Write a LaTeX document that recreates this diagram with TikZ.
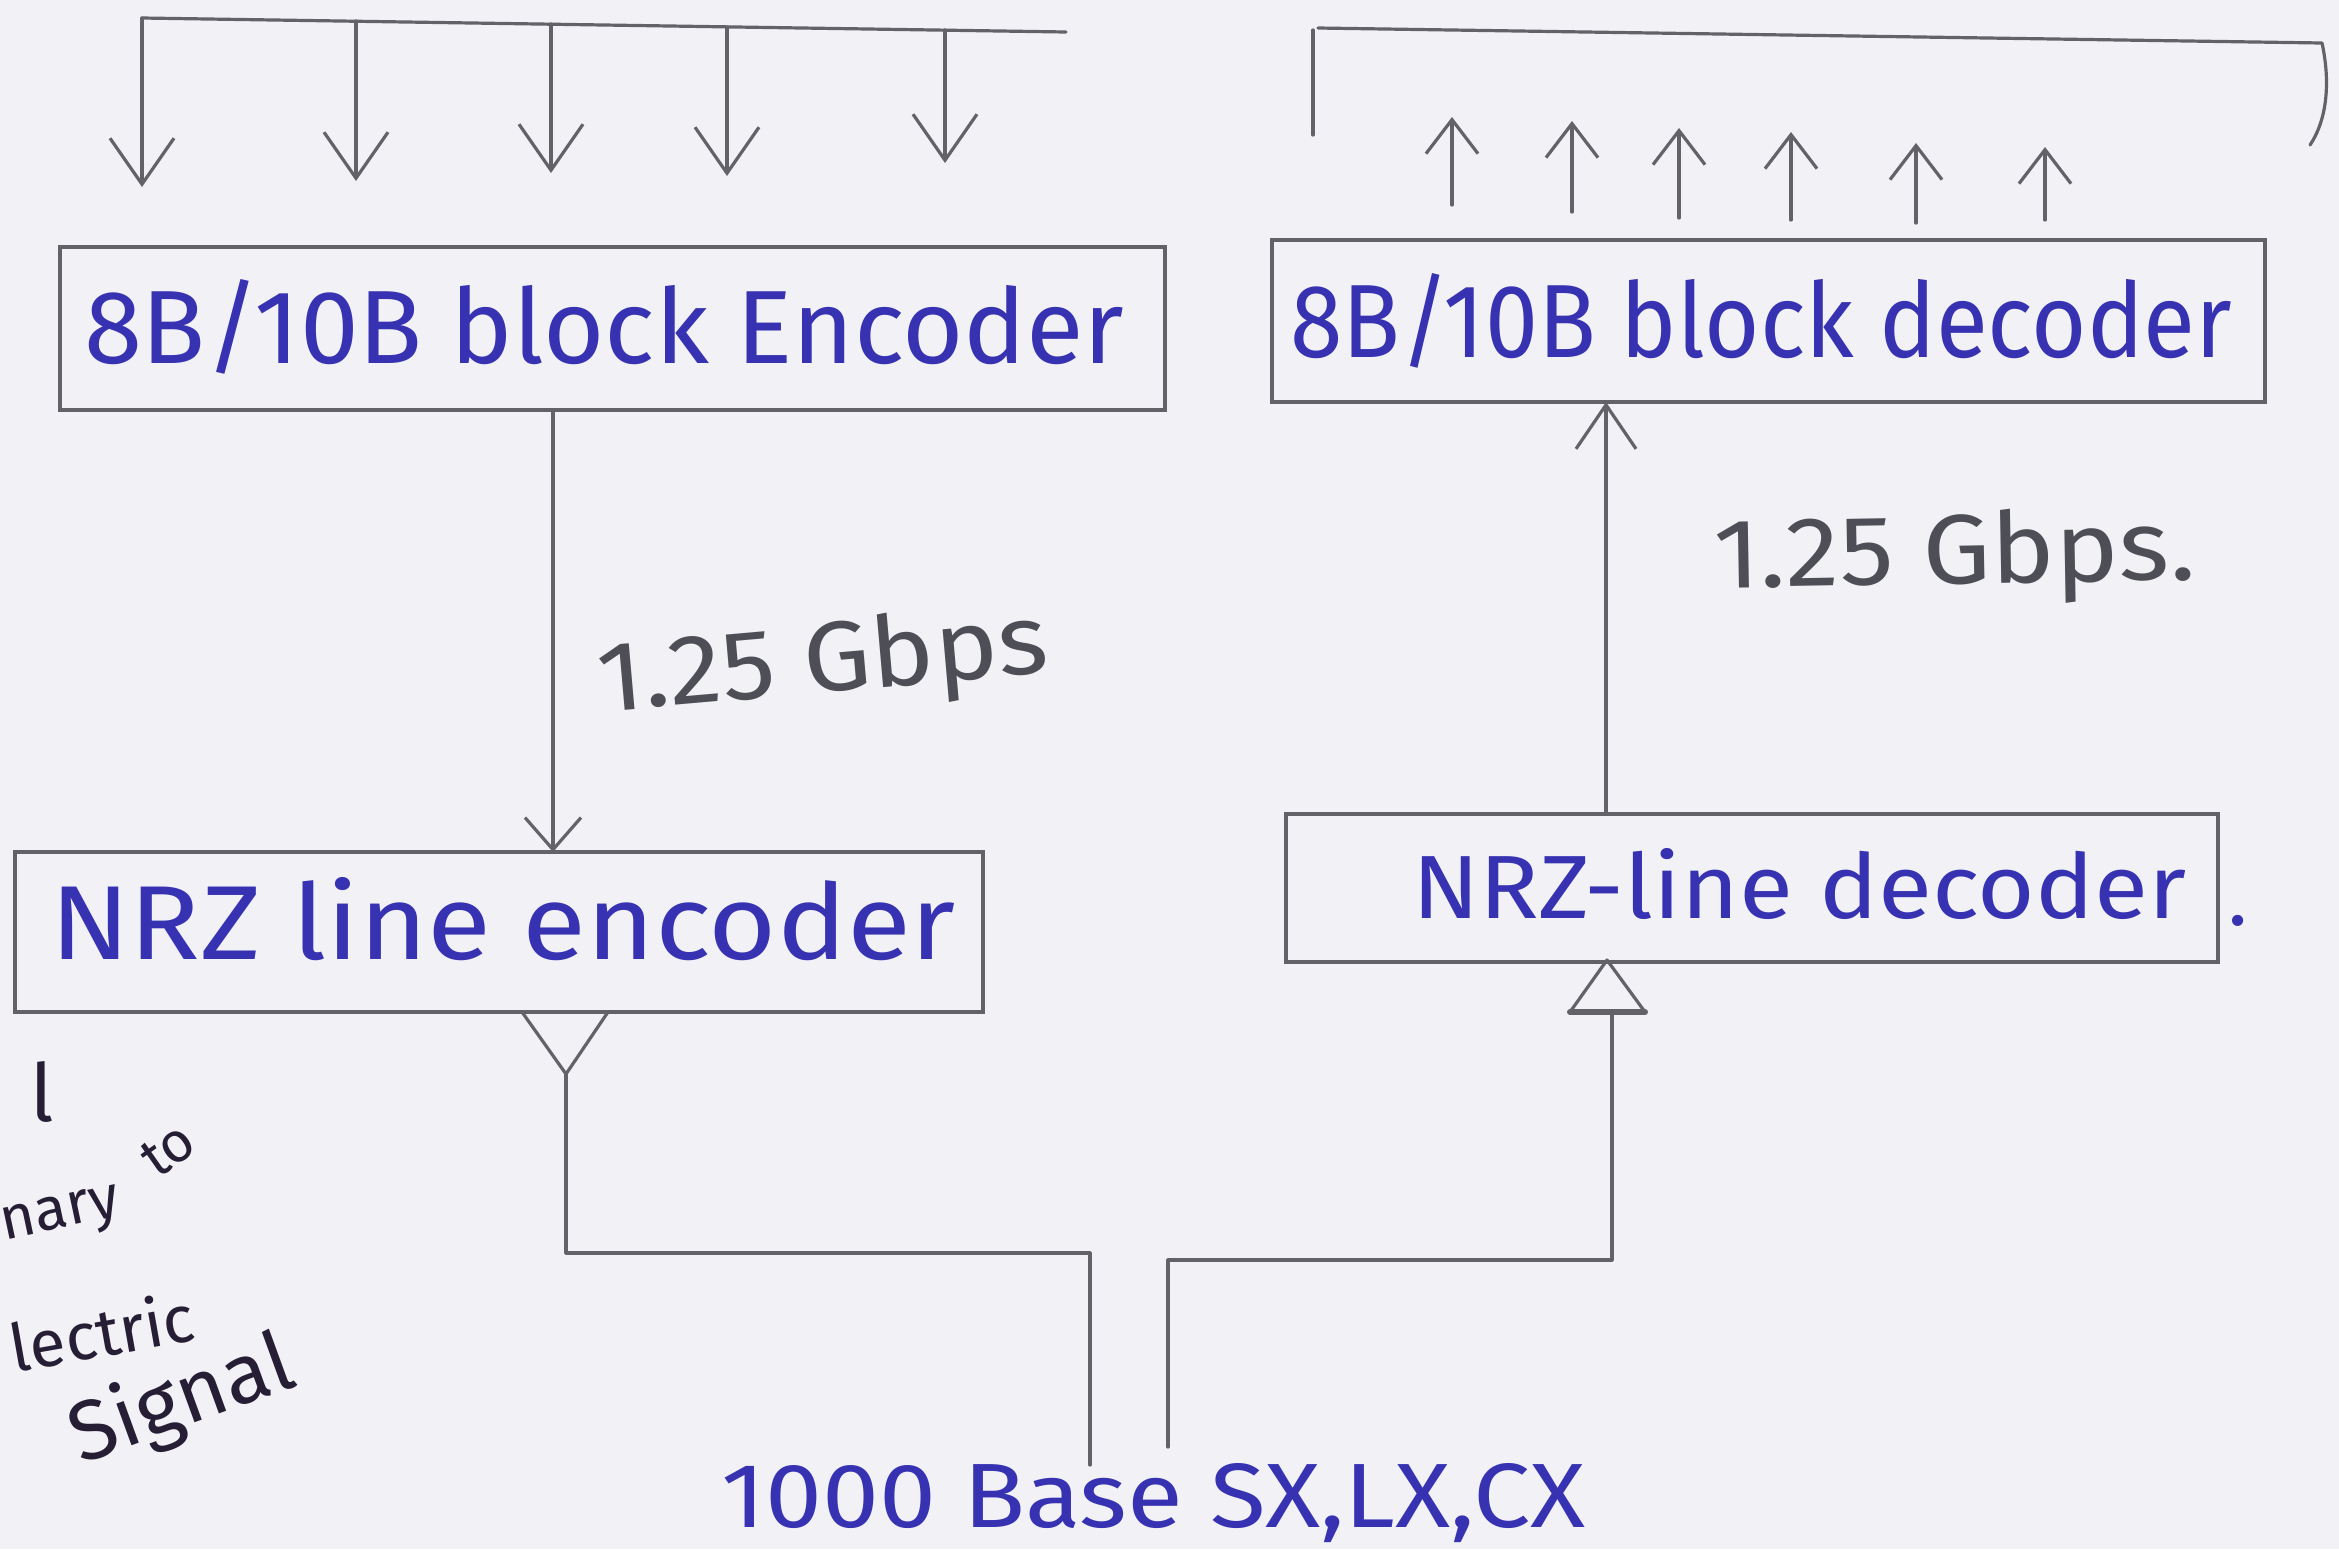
\documentclass[tikz,border=0pt]{standalone}
\usepackage{fontspec}
\setmainfont{Fira Sans}
\usetikzlibrary{arrows.meta}
\definecolor{paper}{RGB}{242,241,246}
\definecolor{pencil}{RGB}{98,98,104}
\definecolor{penblue}{RGB}{55,50,178}
\definecolor{pengray}{RGB}{78,78,86}
\definecolor{ink}{RGB}{38,30,52}
\begin{document}
\begin{tikzpicture}[x=0.5pt,y=-0.5pt,
  blockbox/.style={draw=pencil,line width=2.4pt,rectangle,inner sep=0pt,outer sep=0pt},
  wire/.style={draw=pencil,line width=1.6pt,line cap=round,line join=round},
  barbdown/.style={-{Straight Barb[length=23pt,width=32pt]}},
  barbup/.style={-{Straight Barb[length=17pt,width=26pt]}},
  barbmid/.style={-{Straight Barb[length=16pt,width=28pt]}},
  hwtext/.style={inner sep=0pt,outer sep=0pt,text=penblue},
  ratetext/.style={inner sep=0pt,outer sep=0pt,text=pengray},
  margintext/.style={inner sep=0pt,outer sep=0pt,text=ink}
]
\fill[paper] (0,0) rectangle (2339,1549);
\useasboundingbox (0,0) rectangle (2339,1549);

% ---- blocks ----
\node[blockbox,minimum width=552.5pt,minimum height=81.5pt] (enc) at (612.5,328.5) {};
\node[blockbox,minimum width=496.5pt,minimum height=81pt] (dec) at (1768.5,321) {};
\node[blockbox,minimum width=484pt,minimum height=80pt] (nrze) at (499,932) {};
\node[blockbox,minimum width=466pt,minimum height=74pt] (nrzd) at (1752,888) {};

% ---- block texts ----
\node[hwtext,anchor=base west] (tenc) at (84,363) {\resizebox{520pt}{42pt}{8B/10B block Encoder}};
\node[hwtext,anchor=base west] (tdec) at (1290,357) {\resizebox{471pt}{42pt}{8B/10B block decoder}};
\node[hwtext,anchor=base west] (tnrze) at (50,959) {\resizebox{453pt}{41pt}{NRZ line encoder}};
\node[hwtext,anchor=base west] (tnrzd) at (1412,918) {\resizebox{387pt}{35pt}{NRZ-line decoder}};
\node[hwtext,anchor=base west,font=\fontsize{40}{44}\selectfont] (tdot) at (2228,925) {.};

% ---- top-left input bus with arrows ----
\coordinate (busL) at (142,18);
\coordinate (busR) at (1066,32);
\draw[wire] (busL) -- (busR);
\foreach \x/\ys/\ye [count=\i] in {142/18/187, 356/21/181, 551/24/173, 727/27/176, 945/30/163}{
  \coordinate (ds\i) at (\x,\ys);
  \coordinate (de\i) at (\x,\ye);
  \draw[wire,barbdown] (ds\i) -- (de\i);
}

% ---- top-right output bracket with arrows ----
\coordinate (brL) at (1313,135);
\coordinate (brTL) at (1313,30);
\coordinate (brTR) at (2322,43);
\coordinate (brR) at (2310,145);
\draw[wire] (brL) -- (brTL);
\draw[wire] (1318,28) -- (brTR) .. controls (2330,80) and (2328,118) .. (brR);
\foreach \x/\ys/\ye [count=\i] in {1452/205/117, 1572/212/121, 1679/218/128, 1791/220/132, 1916/223/143, 2045/220/147}{
  \coordinate (us\i) at (\x,\ys);
  \coordinate (ue\i) at (\x,\ye);
  \draw[wire,barbup] (us\i) -- (ue\i);
}

% ---- encoder -> NRZ line encoder ----
\coordinate (c1) at (553,0);
\draw[wire,barbmid] (c1 |- enc.south) -- (c1 |- nrze.north);
\node[ratetext,anchor=base west,rotate=5] (r1) at (600,712) {\resizebox{226pt}{37pt}{1.25 Gbps}};

% ---- NRZ line decoder -> block decoder ----
\coordinate (c2) at (1606,0);
\draw[wire,-{Straight Barb[length=22pt,width=30pt]}] (c2 |- nrzd.north) -- (c2 |- dec.south);
\node[ratetext,anchor=base west,rotate=1] (r2) at (1714,588) {\resizebox{241pt}{37pt}{1.25 Gbps.}};

% ---- transmit side triangle and line ----
\coordinate (txL) at (522,1012);
\coordinate (txR) at (608,1012);
\coordinate (txA) at (566,1074);
\coordinate (txK) at (1090,1253);
\coordinate (txE) at (1090,1465);
\draw[wire] (txL) -- (txR) -- (txA) -- cycle;
\draw[wire] (txA) |- (txK) -- (txE);

% ---- receive side triangle and line ----
\coordinate (rxL) at (1570,1012);
\coordinate (rxR) at (1645,1012);
\coordinate (rxA) at (1607,960);
\coordinate (rxB) at (1612,1012);
\coordinate (rxK) at (1168,1260);
\coordinate (rxE) at (1168,1447);
\draw[wire] (rxL) -- (rxR) -- (rxA) -- cycle;
\draw[wire,line width=3pt] (rxL) -- (rxR);
\draw[wire] (rxB) |- (rxK) -- (rxE);

% ---- media label ----
\node[hwtext,anchor=base west] (media) at (721,1527) {\resizebox{432pt}{32pt}{1000 Base SX,LX,CX}};

% ---- cut-off margin notes ----
\node[margintext,font=\fontsize{40}{44}\selectfont] (m1) at (42,1092) {l};
\node[margintext,anchor=base east,rotate=12,font=\fontsize{30}{34}\selectfont] (m2) at (122,1215) {nary};
\node[margintext,rotate=35,font=\fontsize{28}{32}\selectfont] (m3) at (168,1150) {to};
\node[margintext,anchor=base east,rotate=10,font=\fontsize{33}{36}\selectfont] (m4) at (198,1340) {lectric};
\node[margintext,rotate=20,font=\fontsize{42}{46}\selectfont] (m5) at (182,1402) {Signal};
\end{tikzpicture}
\end{document}
